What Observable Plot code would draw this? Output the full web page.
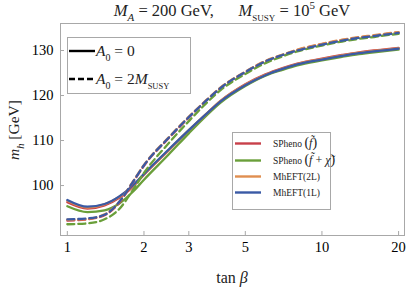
<!DOCTYPE html>
<html><head><meta charset="utf-8">
<script src="https://cdn.jsdelivr.net/npm/d3@7"></script>
<script src="https://cdn.jsdelivr.net/npm/@observablehq/plot@0.6"></script>
<style>
body{margin:0;background:#fff}
svg{font-family:"Liberation Serif","DejaVu Serif",serif}
</style>
</head><body><div id="chart"></div>
<script>
// ---- data ----
const tanb = [1,1.2,1.4,1.6,1.8,2,2.5,3,3.5,4,5,6,7,8,10,12,14,16,18,20];
const models = ["SPheno (f)","SPheno (f+chi)","MhEFT(2L)","MhEFT(1L)"];
const colors = ["#c8404a","#6a9f3a","#e08e50","#3a5aa5"];
// A0 = 0 (solid)
const red_A0   = [96.3,94.9,95.6,97.3,99.6,102.4,107.8,112.2,115.8,118.8,122.5,124.7,126.1,127.1,128.2,129.0,129.6,130.0,130.3,130.6];
const green_A0 = [95.4,94.1,94.5,96.0,98.5,101.3,106.9,111.6,115.4,118.4,122.1,124.4,125.7,126.7,127.8,128.6,129.2,129.6,129.9,130.2];
const orange_A0= [96.6,95.1,95.8,97.5,99.8,102.5,107.9,112.3,115.8,118.8,122.4,124.6,126.0,127.0,128.1,128.9,129.5,129.9,130.2,130.5];
const blue_A0  = [96.8,95.3,95.9,97.6,99.9,102.6,108.0,112.3,115.8,118.7,122.3,124.5,125.9,126.9,128.0,128.8,129.4,129.8,130.1,130.4];
// A0 = 2 MSUSY (dashed)
const red_A2   = [92.2,92.5,93.4,96.2,100.5,104.4,110.5,115.1,118.8,121.7,125.2,127.6,129.0,130.1,131.4,132.3,132.9,133.3,133.7,134.0];
const green_A2 = [91.4,91.6,92.5,94.8,98.8,102.8,109.4,114.3,118.2,121.2,124.8,127.2,128.7,129.8,131.1,132.0,132.6,133.0,133.4,133.7];
const orange_A2= [92.4,92.6,93.6,96.4,100.7,104.6,110.7,115.3,118.9,121.8,125.3,127.7,129.1,130.2,131.5,132.4,133.0,133.4,133.8,134.1];
const blue_A2  = [92.5,92.7,93.5,96.4,100.6,104.5,110.6,115.2,118.8,121.7,125.2,127.6,129.0,130.0,131.3,132.2,132.8,133.2,133.6,133.9];
const xticks = [1,2,3,5,10,20];
const yticks = [100,110,120,130];

const solidSets = [red_A0, green_A0, orange_A0, blue_A0];
const dashSets = [red_A2, green_A2, orange_A2, blue_A2];
const solidRows = [], dashRows = [];
models.forEach((m,i)=>{
  tanb.forEach((t,j)=>{
    solidRows.push({tanb:t, mh:solidSets[i][j], model:m});
    dashRows.push({tanb:t, mh:dashSets[i][j], model:m});
  });
});

const W = 407, H = 292, mL = 60, mR = 3, mT = 23, mB = 57;
const frameH = H - mT - mB, frameW = W - mL - mR;
const gray = "#a8a8a8";

const plot = Plot.plot({
  width: W, height: H,
  marginLeft: mL, marginRight: mR, marginTop: mT, marginBottom: mB,
  style: {fontFamily: '"Liberation Serif", serif', background: "#fff"},
  x: {type: "log", domain: [0.94, 21.1]},
  y: {domain: [88.9, 136]},
  color: {domain: models, range: colors},
  marks: [
    Plot.ruleX(xticks, {x: d => d, stroke: gray, insetTop: frameH - 4}),
    Plot.ruleY(yticks, {y: d => d, stroke: gray, insetRight: frameW - 4}),
    Plot.line(solidRows, {x: "tanb", y: "mh", z: "model", stroke: "model", strokeWidth: 2.3, curve: "monotone-x"}),
    Plot.line(dashRows, {x: "tanb", y: "mh", z: "model", stroke: "model", strokeWidth: 2.3, strokeDasharray: "7,4", curve: "monotone-x"}),
    Plot.frame({stroke: gray}),
    Plot.axisX({ticks: xticks, tickSize: 0, tickPadding: 6, fontSize: 14.5, tickFormat: d => String(d), label: null}),
    Plot.axisY({ticks: yticks, tickSize: 0, tickPadding: 7, fontSize: 14.5, tickFormat: d => String(d), label: null})
  ]
});
document.getElementById("chart").appendChild(plot);

// ---- rich text helpers ----
const svg = d3.select(plot);
function rich(parent, x, y, segs, size, anchor, rotate) {
  const t = parent.append("text")
    .attr("x", x).attr("y", y)
    .attr("font-size", size)
    .attr("text-anchor", anchor || "start")
    .attr("fill", "#222")
    .style("white-space", "pre");
  if (rotate) t.attr("transform", `rotate(${rotate},${x},${y})`);
  let shift = 0;
  segs.forEach(s => {
    const ts = t.append("tspan").text(s.t);
    if (s.i) ts.attr("font-style", "italic");
    if (s.fs) ts.attr("font-size", s.fs);
    let target = s.sub ? size*0.3 : s.sup ? -size*0.4 : 0;
    if (target !== shift) { ts.attr("dy", target - shift); shift = target; }
    if (s.dx) ts.attr("dx", s.dx);
  });
  return t;
}

const g = svg.append("g");
// title
rich(g, 232, 16, [
  {t:"M", i:1}, {t:"A", i:1, sub:1, fs:11}, {t:" = 200 GeV,      "},
  {t:"M", i:1}, {t:"SUSY", sub:1, fs:9}, {t:" = 10"}, {t:"5", sup:1, fs:11}, {t:" GeV"}
], 16.5, "middle");
// y label
rich(g, 19, 130, [{t:"m", i:1}, {t:"h", i:1, sub:1, fs:10.5}, {t:" [GeV]"}], 15.5, "middle", -90);
// x label
rich(g, 232, 283, [{t:"tan "}, {t:"β", i:1}], 16, "middle");

// legend 1 (line styles)
const l1 = svg.append("g");
l1.append("rect").attr("x", 67.5).attr("y", 37.5).attr("width", 123).attr("height", 56)
  .attr("fill", "#fff").attr("stroke", gray);
l1.append("line").attr("x1", 69).attr("x2", 95).attr("y1", 51).attr("y2", 51).attr("stroke", "#000").attr("stroke-width", 2.4);
l1.append("line").attr("x1", 69).attr("x2", 95).attr("y1", 79).attr("y2", 79).attr("stroke", "#000").attr("stroke-width", 2.4).attr("stroke-dasharray", "6,3");
rich(l1, 96, 56, [{t:"A", i:1}, {t:"0", sub:1, fs:10}, {t:" = 0"}], 15.5);
rich(l1, 96, 84, [{t:"A", i:1}, {t:"0", sub:1, fs:10}, {t:" = 2"}, {t:"M", i:1}, {t:"SUSY", sub:1, fs:8.5}], 15.5);

// legend 2 (models)
const l2 = svg.append("g");
l2.append("rect").attr("x", 232.5).attr("y", 132.5).attr("width", 98).attr("height", 77)
  .attr("fill", "#fff").attr("stroke", gray);
const ly = [143.5, 160.5, 176.5, 192.5];
const labels = [
  [{t:"SPheno "}, {t:"(", fs:14}, {t:"f\u0303", i:1, fs:12}, {t:")", fs:14}],
  [{t:"SPheno "}, {t:"(", fs:14}, {t:"f\u0303", i:1, fs:12}, {t:" + ", fs:12}, {t:"\u03c7\u0303", i:1, fs:12}, {t:")", fs:14}],
  [{t:"MhEFT(2L)"}],
  [{t:"MhEFT(1L)"}]
];
ly.forEach((y, i) => {
  l2.append("line").attr("x1", 235).attr("x2", 261).attr("y1", y).attr("y2", y)
    .attr("stroke", colors[i]).attr("stroke-width", 2.4);
  rich(l2, 273, y + 3.5, labels[i], 9.5);
});
</script></body></html>
